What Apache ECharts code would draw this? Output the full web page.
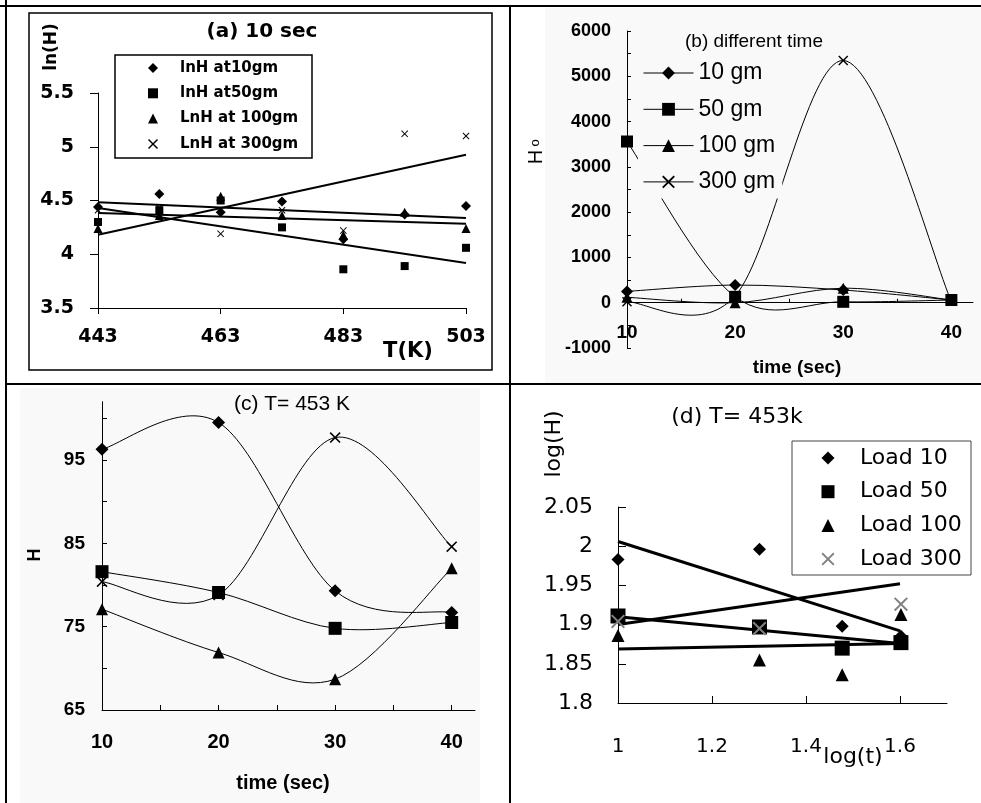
<!DOCTYPE html>
<html><head><meta charset="utf-8">
<script src="https://cdn.jsdelivr.net/npm/echarts@6.0.0/dist/echarts.min.js"></script>
<style>html,body{margin:0;padding:0;background:#fff}#c{width:981px;height:803px}</style>
</head><body><div id="c"></div><script>
// ---------- Panel (a): ln(H) vs T(K), 10 sec ----------
const tempA = [443, 453, 463, 473, 483, 493, 503];
const lnH10 = [4.44, 4.56, 4.39, 4.49, 4.14, 4.37, 4.45];
const lnH50 = [4.30, 4.41, 4.50, 4.25, 3.86, 3.89, 4.06];
const lnH100 = [4.24, 4.36, 4.54, 4.36, 4.18, 4.39, 4.24];
const lnH300 = [4.41, 4.43, 4.19, 4.41, 4.22, 5.12, 5.10];
const fitTempA = [443, 503];
const fitA10 = [4.483, 4.337];
const fitA50 = [4.430, 3.919];
const fitA100 = [4.384, 4.284];
const fitA300 = [4.182, 4.926];
const ticksAx = [443, 463, 483, 503];

// ---------- Panel (b): H0 vs time ----------
const timeB = [10, 20, 30, 40];
const h0_10 = [250, 390, 280, 60];
const h0_50 = [3560, 130, 20, 60];
const h0_100 = [120, 0, 320, 60];
const h0_300 = [20, 150, 5350, 30];
const ticksBx = [10, 20, 30, 40];
const minorBx = [10, 15, 20, 25, 30, 35, 40];
const ticksBy = [-1000, 0, 1000, 2000, 3000, 4000, 5000, 6000];
const minorBy = [-1000, -500, 0, 500, 1000, 1500, 2000, 2500, 3000, 3500, 4000, 4500, 5000, 5500, 6000];

// ---------- Panel (c): H vs time, T=453 K ----------
const timeC = [10, 20, 30, 40];
const hC10 = [96.3, 99.5, 79.3, 76.7];
const hC50 = [81.6, 79.1, 74.8, 75.5];
const hC100 = [77.1, 71.9, 68.7, 82.0];
const hC300 = [80.4, 78.8, 97.7, 84.6];
const ticksCx = [10, 20, 30, 40];
const minorCx = [10, 15, 20, 25, 30, 35, 40];
const ticksCy = [65, 75, 85, 95];
const minorCy = [65, 70, 75, 80, 85, 90, 95, 100];

// ---------- Panel (d): log(H) vs log(t) ----------
const logT = [1, 1.301, 1.477, 1.602];
const logH10 = [1.983, 1.996, 1.898, 1.885];
const logH50 = [1.911, 1.897, 1.870, 1.877];
const logH100 = [1.886, 1.855, 1.836, 1.913];
const logH300 = [1.904, 1.895, 1.990, 1.926];
const fitLogT = [1, 1.6];
const fitD10 = [2.006, 1.892];
const fitD50 = [1.910, 1.876];
const fitD100 = [1.869, 1.876];
const fitD300 = [1.900, 1.952];
const ticksDx = [1, 1.2, 1.4, 1.6];

const pair = (xs, ys) => xs.map((x, i) => [x, ys[i]]);
const X_PATH = 'path://M0,1L1,0L5,4L9,0L10,1L6,5L10,9L9,10L5,6L1,10L0,9L4,5Z';
const BLACK = '#000';
const BG = '#f9f9f9';

function scatter(name, idx, xs, ys, symbol, size, color) {
  return { type: 'scatter', name, xAxisIndex: idx, yAxisIndex: idx, data: pair(xs, ys),
    symbol, symbolSize: size, itemStyle: { color: color || BLACK, opacity: 1 }, silent: true, z: 2 };
}
function fitLine(name, idx, xs, ys, w) {
  return { type: 'line', name, xAxisIndex: idx, yAxisIndex: idx, data: pair(xs, ys),
    symbol: 'none', lineStyle: { color: BLACK, width: w }, silent: true, z: 2 };
}
function markerLine(name, idx, xs, ys, symbol, size) {
  return { type: 'line', name, xAxisIndex: idx, yAxisIndex: idx, data: pair(xs, ys),
    symbol, symbolSize: size, showSymbol: true, showAllSymbol: true,
    itemStyle: { color: BLACK, opacity: 1 }, lineStyle: { width: 0 }, silent: true, z: 2 };
}
function smoothCurve(idx, xs, ys) {
  const n = xs.length;
  return { type: 'custom', xAxisIndex: idx, yAxisIndex: idx, data: pair(xs, ys), silent: true, z: 2,
    encode: { x: 0, y: 1 },
    renderItem: function (params, api) {
      const i = params.dataIndex;
      if (i >= n - 1) return null;
      const P = k => { const j = Math.max(0, Math.min(n - 1, k)); return api.coord([xs[j], ys[j]]); };
      const p0 = P(i - 1), p1 = P(i), p2 = P(i + 1), p3 = P(i + 2);
      return { type: 'bezierCurve', shape: {
          x1: p1[0], y1: p1[1],
          cpx1: p1[0] + (p2[0] - p0[0]) / 6, cpy1: p1[1] + (p2[1] - p0[1]) / 6,
          cpx2: p2[0] - (p3[0] - p1[0]) / 6, cpy2: p2[1] - (p3[1] - p1[1]) / 6,
          x2: p2[0], y2: p2[1] },
        style: { stroke: BLACK, lineWidth: 1, fill: null } };
    } };
}
const axLine = { show: true, onZero: false, lineStyle: { color: BLACK, width: 1 } };
const tickStyle = { color: BLACK, width: 1 };
function lbl(fontFamily, fontSize, fontWeight, margin, customValues) {
  const o = { color: BLACK, fontFamily, fontSize, fontWeight, margin };
  if (customValues) {
    o.customValues = customValues;
    o.formatter = v => (customValues.some(c => Math.abs(c - v) < 1e-9) ? String(v) : '');
  }
  return o;
}
function txt(text, x, y, size, weight, family, rot) {
  return { type: 'text', x, y, rotation: rot || 0, z: 20,
    style: { text, fill: BLACK, fontSize: size, fontWeight: weight, fontFamily: family,
      textAlign: 'center', textVerticalAlign: 'middle', align: 'center', verticalAlign: 'middle' } };
}
function hline(x1, y1, x2, y2, w) {
  return { type: 'line', z: 30, shape: { x1, y1, x2, y2 }, style: { stroke: BLACK, lineWidth: w } };
}

const option = {
  animation: false,
  backgroundColor: '#fff',
  grid: [
    { left: 98, top: 93, width: 368, height: 215 },
    { left: 627, top: 31, width: 346, height: 317 },
    { left: 102, top: 401.7, width: 373, height: 308.3 },
    { left: 618, top: 507, width: 329, height: 196 }
  ],
  xAxis: [
    { type: 'value', gridIndex: 0, min: 443, max: 503, splitLine: { show: false }, axisLine: axLine,
      axisTick: { show: true, length: 6, customValues: ticksAx, lineStyle: tickStyle },
      axisLabel: lbl('DejaVu Sans', 19, 'bold', 20, ticksAx) },
    { type: 'value', gridIndex: 1, min: 10, max: 42, splitLine: { show: false },
      axisLine: { show: true, onZero: true, lineStyle: { color: BLACK, width: 1 } },
      axisTick: { show: true, inside: true, length: 4, customValues: minorBx, lineStyle: tickStyle },
      axisLabel: lbl('Liberation Sans', 19, 'bold', -24.5, ticksBx) },
    { type: 'value', gridIndex: 2, min: 10, max: 42, splitLine: { show: false }, axisLine: axLine,
      axisTick: { show: true, inside: true, length: 5, customValues: minorCx, lineStyle: tickStyle },
      axisLabel: lbl('Liberation Sans', 20, 'bold', 22, ticksCx) },
    { type: 'value', gridIndex: 3, min: 1, max: 1.7, splitLine: { show: false }, axisLine: axLine,
      axisTick: { show: true, inside: true, length: 7, customValues: ticksDx, lineStyle: tickStyle },
      axisLabel: lbl('DejaVu Sans', 20, 'normal', 34, ticksDx) }
  ],
  yAxis: [
    { type: 'value', gridIndex: 0, min: 3.5, max: 5.5, interval: 0.5, splitLine: { show: false }, axisLine: axLine,
      axisTick: { show: true, length: 8, lineStyle: tickStyle },
      axisLabel: lbl('DejaVu Sans', 19, 'bold', 24) },
    { type: 'value', gridIndex: 1, min: -1000, max: 6000, interval: 500, splitLine: { show: false }, axisLine: axLine,
      axisTick: { show: true, inside: true, length: 4, customValues: minorBy, lineStyle: tickStyle },
      axisLabel: lbl('Liberation Sans', 18, 'bold', 16, ticksBy) },
    { type: 'value', gridIndex: 2, min: 65, max: 102, interval: 5, splitLine: { show: false }, axisLine: axLine,
      axisTick: { show: true, inside: true, length: 5, customValues: minorCy, lineStyle: tickStyle },
      axisLabel: lbl('Liberation Sans', 19, 'bold', 17, ticksCy) },
    { type: 'value', gridIndex: 3, min: 1.8, max: 2.05, interval: 0.05, splitLine: { show: false }, axisLine: axLine,
      axisTick: { show: true, inside: true, length: 8, lineStyle: tickStyle },
      axisLabel: lbl('DejaVu Sans', 22, 'normal', 25) }
  ],
  legend: [
    { data: ['lnH at10gm', 'lnH at50gm', 'LnH at 100gm', 'LnH at 300gm'], orient: 'vertical',
      left: 148, top: 60.5, padding: 0, itemGap: 10.3, itemWidth: 10, itemHeight: 10, selectedMode: false,
      symbolKeepAspect: true, z: 5,
      textStyle: { color: BLACK, fontFamily: 'DejaVu Sans', fontWeight: 'bold', fontSize: 15, padding: [0, 0, 0, 17] } },
    { data: ['10 gm', '50 gm', '100 gm', '300 gm'], orient: 'vertical',
      left: 638, top: 56.5, padding: [5, 7, 5, 5], itemGap: 13.3, itemWidth: 50, itemHeight: 16, selectedMode: false,
      backgroundColor: BG, lineStyle: { color: BLACK, width: 1, opacity: 1, type: 'solid' }, z: 5,
      textStyle: { color: BLACK, fontFamily: 'Liberation Sans', fontSize: 23 } },
    { data: ['Load 10', 'Load 50', 'Load 100', 'Load 300'], orient: 'vertical',
      left: 821.5, top: 447, padding: 0, itemGap: 11.7, itemWidth: 13, itemHeight: 13, selectedMode: false,
      symbolKeepAspect: true, z: 5,
      textStyle: { color: BLACK, fontFamily: 'DejaVu Sans', fontSize: 22, padding: [0, 0, 0, 20.5] } }
  ],
  series: [
    // (a)
    fitLine('fitA10', 0, fitTempA, fitA10, 2),
    fitLine('fitA50', 0, fitTempA, fitA50, 2),
    fitLine('fitA100', 0, fitTempA, fitA100, 2),
    fitLine('fitA300', 0, fitTempA, fitA300, 2),
    scatter('lnH at10gm', 0, tempA, lnH10, 'diamond', 10),
    scatter('lnH at50gm', 0, tempA, lnH50, 'rect', 8),
    scatter('LnH at 100gm', 0, tempA, lnH100, 'triangle', 9),
    scatter('LnH at 300gm', 0, tempA, lnH300, X_PATH, 7),
    // (b)
    smoothCurve(1, timeB, h0_10),
    smoothCurve(1, timeB, h0_50),
    smoothCurve(1, timeB, h0_100),
    smoothCurve(1, timeB, h0_300),
    markerLine('10 gm', 1, timeB, h0_10, 'diamond', 12),
    markerLine('50 gm', 1, timeB, h0_50, 'rect', 12),
    markerLine('100 gm', 1, timeB, h0_100, 'triangle', 11),
    markerLine('300 gm', 1, timeB, h0_300, X_PATH, 10),
    // (c)
    smoothCurve(2, timeC, hC10),
    smoothCurve(2, timeC, hC50),
    smoothCurve(2, timeC, hC100),
    smoothCurve(2, timeC, hC300),
    scatter('c10', 2, timeC, hC10, 'diamond', 13),
    scatter('c50', 2, timeC, hC50, 'rect', 13),
    scatter('c100', 2, timeC, hC100, 'triangle', 12),
    scatter('c300', 2, timeC, hC300, X_PATH, 11),
    // (d)
    fitLine('fitD10', 3, fitLogT, fitD10, 3),
    fitLine('fitD50', 3, fitLogT, fitD50, 3),
    fitLine('fitD100', 3, fitLogT, fitD100, 3),
    fitLine('fitD300', 3, fitLogT, fitD300, 3),
    scatter('Load 10', 3, logT, logH10, 'diamond', 13),
    scatter('Load 50', 3, logT, logH50, 'rect', 15),
    scatter('Load 100', 3, logT, logH100, 'triangle', 13),
    scatter('Load 300', 3, logT, logH300, X_PATH, 14, '#808080')
  ],
  graphic: { elements: [
    // panel backgrounds
    { type: 'rect', z: -1, shape: { x: 545, y: 8, width: 436, height: 375 }, style: { fill: BG } },
    { type: 'rect', z: -1, shape: { x: 20, y: 388, width: 460, height: 415 }, style: { fill: BG } },
    // legend boxes (above series, below legend items)
    { type: 'rect', z: 4, shape: { x: 115, y: 55, width: 197, height: 103 }, style: { fill: '#fff', stroke: BLACK, lineWidth: 1.5 } },
    { type: 'rect', z: 4, shape: { x: 792, y: 441, width: 179, height: 134 }, style: { fill: '#fff', stroke: '#444', lineWidth: 1 } },
    // panel (a) frame
    { type: 'rect', z: 30, shape: { x: 29, y: 13, width: 463, height: 357 }, style: { fill: null, stroke: BLACK, lineWidth: 1.5 } },
    // table borders
    hline(0, 6, 981, 6, 2),
    hline(6, 0, 6, 803, 2),
    hline(6, 384, 981, 384, 2),
    hline(510, 6, 510, 803, 2),
    // texts (a)
    txt('(a) 10 sec', 262, 32, 20, 'bold', 'DejaVu Sans'),
    txt('ln(H)', 52, 47, 17, 'bold', 'DejaVu Sans', Math.PI / 2),
    txt('T(K)', 408, 352, 21, 'bold', 'DejaVu Sans'),
    // texts (b)
    txt('(b) different time', 754, 42, 19, 'normal', 'Liberation Sans'),
    txt('H', 536, 157, 20, 'normal', 'Liberation Sans', Math.PI / 2),
    txt('o', 535, 143, 13, 'normal', 'Liberation Sans', Math.PI / 2),
    txt('time (sec)', 797, 368, 19, 'bold', 'Liberation Sans'),
    // texts (c)
    txt('(c) T= 453 K', 292, 404, 21, 'normal', 'Liberation Sans'),
    txt('H', 35, 555, 18, 'bold', 'Liberation Sans', Math.PI / 2),
    txt('time (sec)', 283, 783, 20, 'bold', 'Liberation Sans'),
    // texts (d)
    txt('(d) T= 453k', 737, 417, 22, 'normal', 'DejaVu Sans'),
    txt('log(H)', 554, 444, 22, 'normal', 'DejaVu Sans', Math.PI / 2),
    txt('log(t)', 853, 757, 22, 'normal', 'DejaVu Sans')
  ] }
};
const chart = echarts.init(document.getElementById('c'), null, { renderer: 'canvas', width: 981, height: 803 });
chart.setOption(option);
</script></body></html>
